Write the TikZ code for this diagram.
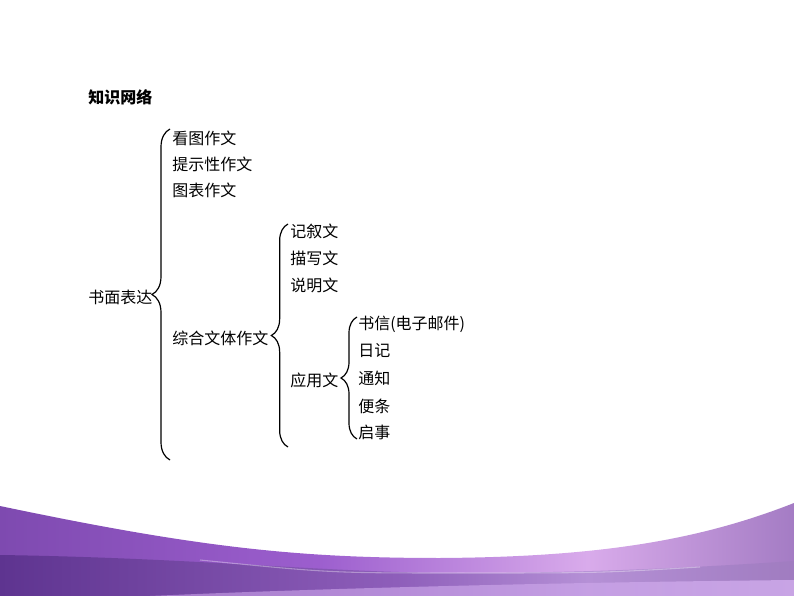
\documentclass[tikz,border=0pt]{standalone}
\usepackage{fontspec}
\newfontfamily\cjk{Noto Sans CJK SC}
\usetikzlibrary{positioning, decorations.pathreplacing}

\pgfdeclarehorizontalshading{waveshade}{100bp}{
  color(0bp)=(rgb,255:red,126;green,74;blue,176);
  color(25bp)=(rgb,255:red,126;green,74;blue,176);
  color(45bp)=(rgb,255:red,156;green,94;blue,206);
  color(62bp)=(rgb,255:red,217;green,171;blue,235);
  color(75bp)=(rgb,255:red,164;green,124;blue,196);
  color(100bp)=(rgb,255:red,164;green,124;blue,196)}
\pgfdeclarehorizontalshading{bandshade}{100bp}{
  color(0bp)=(rgb,255:red,94;green,52;blue,144);
  color(25bp)=(rgb,255:red,94;green,52;blue,144);
  color(50bp)=(rgb,255:red,142;green,94;blue,186);
  color(62bp)=(rgb,255:red,181;green,144;blue,214);
  color(75bp)=(rgb,255:red,160;green,124;blue,192);
  color(100bp)=(rgb,255:red,160;green,124;blue,192)}
\definecolor{streakA}{HTML}{B58BD8}
\definecolor{streakB}{HTML}{D2AEEE}

\tikzset{
  item/.style={anchor=west, inner sep=0pt, font=\cjk\fontsize{12}{14}\selectfont},
  heading/.style={item, font=\cjk\bfseries\fontsize{12}{14}\selectfont},
  bracebar/.style={decorate, line width=0.9pt, decoration={brace, amplitude=#1}}
}

\begin{document}
\begin{tikzpicture}[x=0.75pt, y=-0.75pt]
    \useasboundingbox (0,0) rectangle (794,596);

    % bottom wave
    \shade[shading=waveshade]
        (0,506) .. controls (200,548) and (300,558) .. (440,558)
        .. controls (600,557) and (700,540) .. (794,503)
        -- (794,596) -- (0,596) -- cycle;
    \shade[shading=bandshade]
        (0,555) .. controls (200,558) and (330,573) .. (460,573)
        .. controls (600,573) and (720,566) .. (794,561)
        -- (794,596) -- (0,596) -- cycle;
    \draw[white, opacity=0.35, line width=0.8pt]
        (200,560) .. controls (330,573) .. (460,573)
        .. controls (600,573) .. (700,567);
    \shade[left color=streakA, right color=streakB, opacity=0.8]
        (150,596) .. controls (350,587) and (600,582) .. (794,580)
        -- (794,596) -- cycle;

    \node[heading] (title) at (88,97) {知识网络};

    % first level
    \node[item] (shumian) at (88,297) {书面表达};
    \node[item] (kantu) at (172,138) {看图作文};
    \node[item] (tishi) at (172,164) {提示性作文};
    \node[item] (tubiao) at (172,190) {图表作文};
    \node[item] (zonghe) at (172,338) {综合文体作文};

    % second level
    \node[item] (jixu) at (290,231) {记叙文};
    \node[item] (miaoxie) at (290,258) {描写文};
    \node[item] (shuoming) at (290,285) {说明文};
    \node[item] (yingyong) at (290,380) {应用文};

    % third level
    \node[item] (shuxin) at (358,324) {书信(电子邮件)};
    \node[item] (riji) at (358,351) {日记};
    \node[item] (tongzhi) at (358,378) {通知};
    \node[item] (biantiao) at (358,406) {便条};
    \node[item] (qishi) at (358,432) {启事};

    \coordinate (b1top) at (170,129);
    \coordinate (b1bot) at (170,460);
    \coordinate (b2top) at (288,224);
    \coordinate (b2bot) at (288,447);
    \coordinate (b3top) at (357,317);
    \coordinate (b3bot) at (357,439);

    \draw[bracebar=13.5pt] (b1bot) -- (b1top);
    \draw[bracebar=12.5pt] (b2bot) -- (b2top);
    \draw[bracebar=12pt] (b3bot) -- (b3top);
\end{tikzpicture}
\end{document}
